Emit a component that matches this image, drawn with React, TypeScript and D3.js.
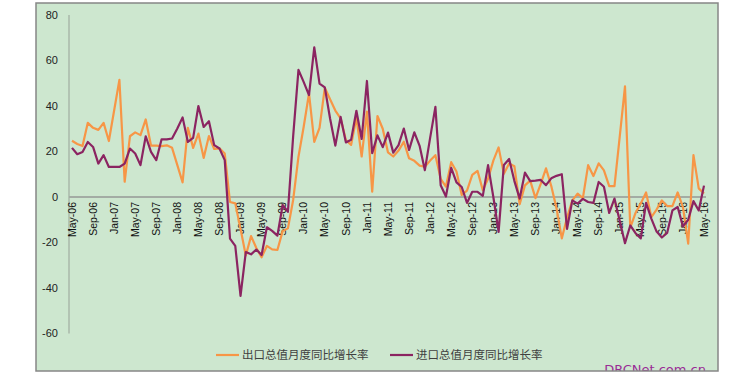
import React from "react";
import * as d3 from "d3";

const months: Date[] = d3.timeMonth.range(new Date(2006, 4, 1), new Date(2016, 5, 1));
const fmt = d3.timeFormat("%b-%y");

const exportGrowth = [
  24.7, 23.3, 22.4, 32.6, 30.4, 29.5, 32.6, 24.6,
  38, 51.5, 6.7, 26.7, 28.4, 27.2, 34.1, 22.6, 22.6, 22.4, 22.7, 21.6,
  14, 6.4, 30.4, 21.6, 27.9, 17.2, 26.8, 21.1, 21.4, 19.1, -2.2, -2.8,
  -14, -25.7, -17.2, -22.4, -26.5, -21.5, -23, -23.3, -15, -13.8, -1.2, 17.7,
  31, 45.5, 24.2, 30.4, 48, 43, 38, 34.6, 25, 22.9, 34.9, 17.8,
  37.5, 2.3, 35.6, 30, 19.6, 17.8, 20.4, 24.3, 17, 15.9, 13.8, 13.3,
  16, 18.4, 8, 4.6, 15.3, 11.2, 0.9, 2.8, 9.7, 11.5, 3, 8,
  16, 21.8, 10.2, 14.7, 13.5, -3.2, 5.1, 7.2, -0.5, 5.8, 12.6, 4.8,
  -5, -18.2, -9, -1.5, 1.5, -0.5, 14, 9.2, 14.8, 11.7, 4.8, 4.8,
  26.5, 48.6, -13.5, -7, -2.8, 2, -8.8, -5.5, -1.5, -4, -4, 2,
  -4.4, -20.5, 18.4, 3.8, 1.5,
];

const importGrowth = [
  21.6, 18.8, 19.8, 24.2, 22, 14.7, 18.4, 13.2,
  13.2, 13.2, 14.7, 21.3, 19.1, 14, 26.7, 19.8, 16.2, 25.3, 25.3, 25.7,
  30.1, 35, 24.2, 26, 40, 30.8, 33.3, 22.8, 21.3, 16.2, -18.3, -21.5,
  -43.5, -24.2, -25.2, -23.1, -25.5, -13.3, -14.9, -17, -3.5, -6.5, 27, 55.9,
  50.5, 44.8, 65.8, 49.8, 48.2, 34.5, 22.6, 35.2, 24, 25.2, 37.9, 25.5,
  51, 19.3, 27.1, 21.9, 28.3, 19.5, 22.8, 30.1, 20.7, 28.4, 22.5, 11.8,
  26, 39.6, 5.2, 0.2, 12.8, 6.4, 4.4, -2.6, 2.3, 2.3, 0.5, 14,
  0, -15.3, 14.1, 16.7, 7, -0.7, 10.7, 7, 7.2, 7.5, 5.2, 8.2,
  9.3, 10, -14, -1.5, -2.9, -0.8, -2.2, -2.6, 6.6, 4.5, -7, -0.7,
  -10.5, -20.3, -12.5, -15.9, -18.2, -2.6, -9.5, -15.2, -17.8, -15.8, -5.9, -4.4,
  -12.9, -10, -1.8, -5.9, 5,
];

const yTicks = [80, 60, 40, 20, 0, -20, -40, -60];
const seriesNames = ["出口总值月度同比增长率", "进口总值月度同比增长率"];
const seriesColors = ["#f79646", "#8b2461"];
const watermark = "DRCNet.com.cn";

export default function App() {
  const W = 751, H = 391;
  const x = d3.scaleLinear().domain([0, months.length - 1]).range([72, 704]);
  const y = d3.scaleLinear().domain([-60, 80]).range([333.5, 15]);
  const line = d3.line<number>().x((_, i) => x(i)).y((d) => y(d));
  const labelFont = "'Liberation Sans', Arial, sans-serif";
  const cjkFont = "'Noto Sans CJK SC', sans-serif";
  const tickIdx = months.map((_, i) => i).filter((i) => i % 4 === 0);

  return (
    <svg width={W} height={H} style={{ position: "absolute", left: 0, top: 0, background: "#fff" }}>
      <defs>
        <clipPath id="frame">
          <rect x={36} y={3} width={682} height={368} />
        </clipPath>
      </defs>
      <rect x={36} y={3} width={682} height={368} fill="#cde7cf" stroke="none" />
      {/* y axis line */}
      <line x1={69} x2={69} y1={y(80)} y2={y(-60)} stroke="#a9b8aa" strokeWidth={1.5} />
      {/* zero line */}
      <line x1={69} x2={706} y1={y(0)} y2={y(0)} stroke="#a3aca4" strokeWidth={2} />
      {yTicks.map((t) => (
        <text key={t} x={58} y={y(t)} dy="0.35em" textAnchor="end" fontSize={11} fontFamily={labelFont} fill="#222">
          {t}
        </text>
      ))}
      {tickIdx.map((i) => (
        <text
          key={i}
          transform={`translate(${x(i)},${y(0) + 5}) rotate(-90)`}
          textAnchor="end"
          dy="0.35em"
          fontSize={10.5}
          fontFamily={labelFont}
          fill="#111"
        >
          {fmt(months[i])}
        </text>
      ))}
      <path d={line(exportGrowth) || ""} fill="none" stroke={seriesColors[0]} strokeWidth={2.2} strokeLinejoin="round" />
      <path d={line(importGrowth) || ""} fill="none" stroke={seriesColors[1]} strokeWidth={2.2} strokeLinejoin="round" />
      {/* legend */}
      {seriesNames.map((name, k) => {
        const lx = k === 0 ? 216 : 390;
        return (
          <g key={name}>
            <line x1={lx} x2={lx + 23} y1={355} y2={355} stroke={seriesColors[k]} strokeWidth={2.2} />
            <text x={lx + 26} y={355} dy="0.35em" fontSize={11.5} fontFamily={cjkFont} fill="#404040">
              {name}
            </text>
          </g>
        );
      })}
      <g clipPath="url(#frame)">
        <text x={706} y={374} textAnchor="end" fontSize={13} fontFamily="'DejaVu Sans', sans-serif" fill="#9a2c96">
          {watermark}
        </text>
      </g>
      <rect x={36} y={3} width={682} height={368} fill="none" stroke="#878787" strokeWidth={1.5} />
    </svg>
  );
}
